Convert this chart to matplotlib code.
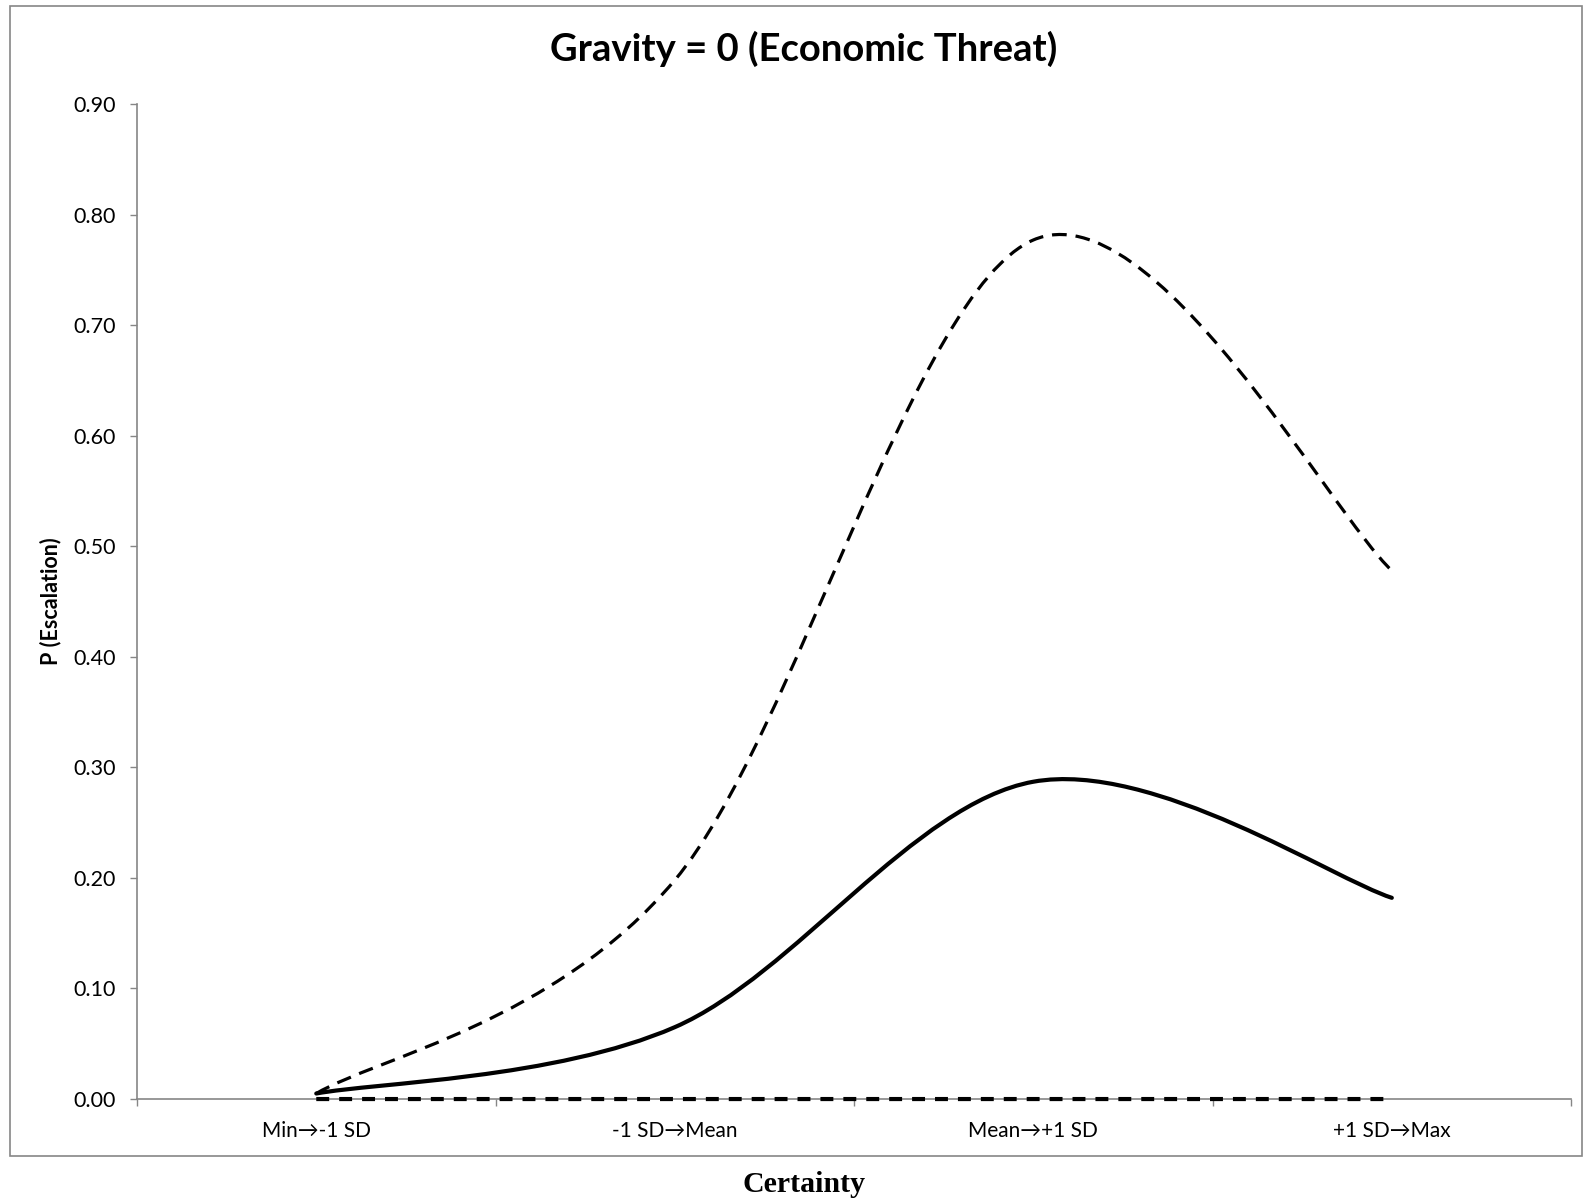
import numpy as np
import matplotlib
matplotlib.use("Agg")
import matplotlib.pyplot as plt
from matplotlib.path import Path
from matplotlib.patches import PathPatch, Rectangle

plt.rcParams['font.family'] = ['Lato', 'DejaVu Sans']

categorias = ['Min\u2192-1 SD', '-1 SD\u2192Mean', 'Mean\u2192+1 SD', '+1 SD\u2192Max']
p_media = [0.005, 0.065, 0.287, 0.182]      # linha continua
p_superior = [0.005, 0.198, 0.777, 0.478]   # tracejada de cima
p_inferior = [0.0, 0.0, 0.0, 0.0]           # tracejada de baixo

titulo = 'Gravity = 0 (Economic Threat)'
rotulo_y = 'P (Escalation)'
rotulo_x = 'Certainty'
cinza = '#868686'


def curva_suave(xs, ys):
    # bezier no estilo do excel (catmull-rom), passa por todos os pontos
    pts = np.column_stack([xs, ys]).astype(float)
    n = len(pts)
    verts = [pts[0]]
    codes = [Path.MOVETO]
    for i in range(n - 1):
        p0 = pts[max(i - 1, 0)]
        p1 = pts[i]
        p2 = pts[i + 1]
        p3 = pts[min(i + 2, n - 1)]
        c1 = p1 + (p2 - p0) / 6
        c2 = p2 - (p3 - p1) / 6
        verts += [c1, c2, p2]
        codes += [Path.CURVE4] * 3
    return Path(verts, codes)


fig = plt.figure(figsize=(15.95, 12.01), dpi=100)
ax = fig.add_axes([0.0859, 0.0849, 0.8991, 0.8285])

x = np.arange(len(categorias))

ax.add_patch(PathPatch(curva_suave(x, p_inferior), fill=False, color='black',
                       lw=3.0, linestyle=(0, (3.1, 2.4)), clip_on=False, zorder=3))
ax.add_patch(PathPatch(curva_suave(x, p_superior), fill=False, color='black',
                       lw=2.3, linestyle=(0, (4.6, 2.8)), clip_on=False, zorder=3))
ax.add_patch(PathPatch(curva_suave(x, p_media), fill=False, color='black',
                       lw=3.0, capstyle='round', joinstyle='round', clip_on=False, zorder=4))

ax.set_xlim(-0.5, len(categorias) - 0.5)
ax.set_ylim(0, 0.9)

ax.set_yticks(np.arange(0, 0.91, 0.1))
ax.set_yticklabels(['%.2f' % v for v in np.arange(0, 0.91, 0.1)])
ax.set_xticks(np.arange(-0.5, len(categorias), 1.0))
ax.set_xticklabels([])
ax.set_xticks(x, minor=True)
ax.set_xticklabels(categorias, minor=True)

ax.tick_params(axis='y', direction='out', length=5, width=1, color=cinza,
               labelsize=15.5, pad=10)
ax.tick_params(axis='x', which='major', direction='out', length=5, width=1, color=cinza)
ax.tick_params(axis='x', which='minor', length=0, labelsize=15, pad=16)

for lado in ['top', 'right']:
    ax.spines[lado].set_visible(False)
for lado in ['left', 'bottom']:
    ax.spines[lado].set_color(cinza)
    ax.spines[lado].set_linewidth(1.2)

ax.set_ylabel(rotulo_y, fontsize=15.5, fontweight='bold')
ax.yaxis.set_label_coords(-0.053, 0.5)

fig.text(0.504, 0.959, titulo, ha='center', va='center', fontsize=27.5, fontweight='bold')
fig.text(0.504, 0.0135, rotulo_x, ha='center', va='center', fontsize=21.5, fontweight='bold',
         family=['Liberation Serif', 'DejaVu Serif'])

fig.patches.append(Rectangle((0.0063, 0.0375), 0.9856, 0.9575, transform=fig.transFigure,
                             fill=False, edgecolor=cinza, lw=1.2))

fig.savefig('out.png', dpi=100)
